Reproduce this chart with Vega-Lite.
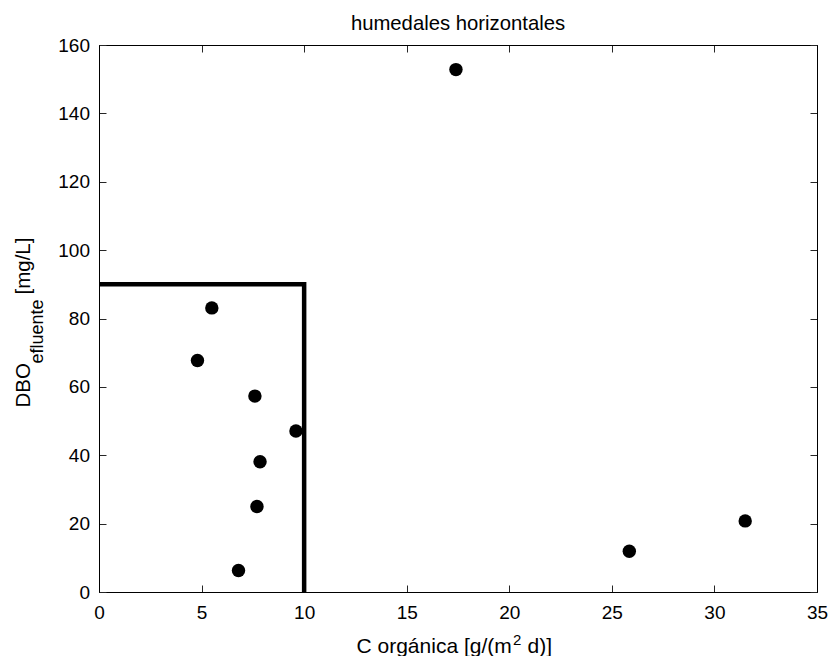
{
  "$schema": "https://vega.github.io/schema/vega-lite/v6.json",
  "width": 718,
  "height": 547,
  "autosize": {"type": "none"},
  "padding": {"left": 99, "top": 45, "right": 13, "bottom": 64},
  "background": "white",
  "title": {
    "text": "humedales horizontales",
    "font": "Liberation Sans",
    "fontSize": 20.3,
    "fontWeight": "normal",
    "color": "black",
    "anchor": "middle",
    "frame": "group",
    "baseline": "alphabetic",
    "offset": 15.5,
    "dy": 30
  },
  "config": {
    "view": {"stroke": "black", "strokeWidth": 1},
    "axis": {
      "grid": false,
      "domainColor": "black",
      "domainWidth": 1,
      "tickColor": "#262626",
      "tickWidth": 1,
      "tickSize": -7,
      "labelFont": "Liberation Sans",
      "labelFontSize": 19,
      "labelColor": "black",
      "labelFlush": false,
      "labelOverlap": false,
      "labelBound": false,
      "titleFont": "Liberation Sans",
      "titleFontSize": 20.5,
      "titleFontWeight": "normal",
      "titleColor": "black"
    }
  },
  "datasets": {
    "puntos": [
      {"c_org": 17.4, "dbo": 152.8},
      {"c_org": 5.5, "dbo": 83.1},
      {"c_org": 4.8, "dbo": 67.7},
      {"c_org": 7.6, "dbo": 57.3},
      {"c_org": 9.6, "dbo": 47.1},
      {"c_org": 7.85, "dbo": 38.1},
      {"c_org": 7.7, "dbo": 25.0},
      {"c_org": 6.8, "dbo": 6.3},
      {"c_org": 25.85, "dbo": 11.9},
      {"c_org": 31.5, "dbo": 20.8}
    ],
    "limite": [
      {"paso": 1, "c_org": 0, "dbo": 90},
      {"paso": 2, "c_org": 10, "dbo": 90},
      {"paso": 3, "c_org": 10, "dbo": 0}
    ]
  },
  "layer": [
    {
      "data": {"name": "limite"},
      "mark": {"type": "line", "color": "black", "strokeWidth": 4.5, "strokeJoin": "miter", "strokeCap": "butt"},
      "encoding": {
        "x": {
          "field": "c_org", "type": "quantitative",
          "scale": {"domain": [0, 35], "nice": false, "zero": false},
          "axis": {"orient": "top", "labels": false, "title": null, "values": [0, 5, 10, 15, 20, 25, 30, 35]}
        },
        "y": {
          "field": "dbo", "type": "quantitative",
          "scale": {"domain": [0, 160], "nice": false},
          "axis": {"orient": "right", "labels": false, "title": null, "values": [0, 20, 40, 60, 80, 100, 120, 140, 160]}
        },
        "order": {"field": "paso"}
      }
    },
    {
      "data": {"name": "puntos"},
      "mark": {"type": "circle", "size": 180, "color": "black", "opacity": 1},
      "encoding": {
        "x": {
          "field": "c_org", "type": "quantitative",
          "scale": {"domain": [0, 35], "nice": false, "zero": false},
          "axis": {
            "orient": "bottom",
            "values": [0, 5, 10, 15, 20, 25, 30, 35],
            "labelBaseline": "alphabetic",
            "labelPadding": 33,
            "title": "C orgánica [g/(m",
            "titleFontSize": 21,
            "titleAlign": "left",
            "titleBaseline": "alphabetic",
            "titleX": 257,
            "titleY": 60
          }
        },
        "y": {
          "field": "dbo", "type": "quantitative",
          "scale": {"domain": [0, 160], "nice": false},
          "axis": {
            "orient": "left",
            "values": [0, 20, 40, 60, 80, 100, 120, 140, 160],
            "labelPadding": 16.5,
            "title": "DBO",
            "titleAngle": -90,
            "titleAlign": "left",
            "titleBaseline": "alphabetic",
            "titleX": -70,
            "titleY": 362
          }
        }
      }
    },
    {
      "data": {"name": "puntos"},
      "mark": {"type": "circle", "opacity": 0},
      "encoding": {
        "x": {
          "field": "c_org", "type": "quantitative",
          "scale": {"domain": [0, 35], "nice": false, "zero": false},
          "axis": {
            "orient": "bottom", "labels": false, "ticks": false, "domain": false,
            "title": "2",
            "titleFontSize": 15,
            "titleAlign": "left",
            "titleBaseline": "alphabetic",
            "titleX": 413.5,
            "titleY": 52
          }
        },
        "y": {
          "field": "dbo", "type": "quantitative",
          "scale": {"domain": [0, 160], "nice": false},
          "axis": {
            "orient": "left", "labels": false, "ticks": false, "domain": false,
            "title": "efluente",
            "titleFontSize": 18,
            "titleAngle": -90,
            "titleAlign": "left",
            "titleBaseline": "alphabetic",
            "titleX": -57,
            "titleY": 318
          }
        }
      }
    },
    {
      "data": {"name": "puntos"},
      "mark": {"type": "circle", "opacity": 0},
      "encoding": {
        "x": {
          "field": "c_org", "type": "quantitative",
          "scale": {"domain": [0, 35], "nice": false, "zero": false},
          "axis": {
            "orient": "bottom", "labels": false, "ticks": false, "domain": false,
            "title": "d)]",
            "titleFontSize": 21,
            "titleAlign": "left",
            "titleBaseline": "alphabetic",
            "titleX": 428,
            "titleY": 60
          }
        },
        "y": {
          "field": "dbo", "type": "quantitative",
          "scale": {"domain": [0, 160], "nice": false},
          "axis": {
            "orient": "left", "labels": false, "ticks": false, "domain": false,
            "title": "[mg/L]",
            "titleAngle": -90,
            "titleAlign": "left",
            "titleBaseline": "alphabetic",
            "titleX": -70,
            "titleY": 249
          }
        }
      }
    }
  ],
  "resolve": {"axis": {"x": "independent", "y": "independent"}}
}
